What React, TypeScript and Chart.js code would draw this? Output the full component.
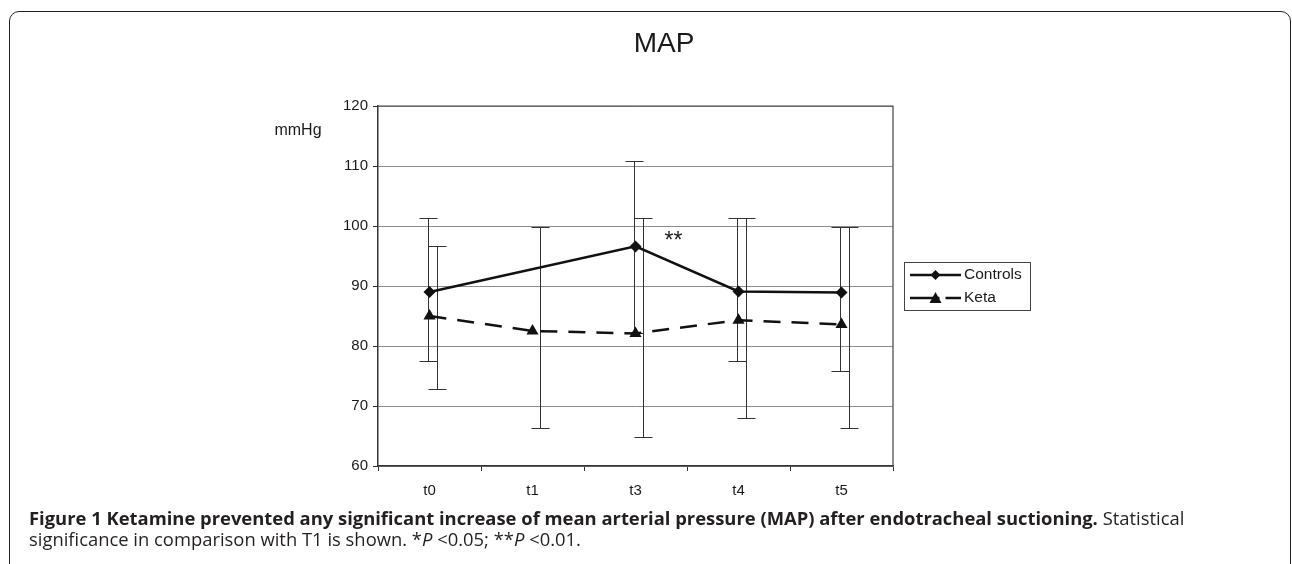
import { useEffect, useRef } from "react";
import { Chart, registerables, Plugin } from "chart.js";

Chart.register(...registerables);

const timePoints = ["t0", "t1", "t3", "t4", "t5"];

// mean values (mmHg); controls have no reading at t1
const controlsMean = [89.0, null, 96.6, 89.1, 88.9];
const ketaMean = [85.0, 82.5, 82.1, 84.3, 83.6];

// error bar ends
const controlsHigh = [101.3, null, 110.8, 101.3, 99.8];
const controlsLow = [77.5, null, 82.2, 77.5, 75.9];
const ketaHigh = [96.6, 99.8, 101.3, 101.3, 99.8];
const ketaLow = [72.8, 66.4, 64.8, 68.0, 66.4];

const yMin = 60;
const yMax = 120;
const yStep = 10;

// significance mark
const starIndex = 2;
const starValue = 98;

const FONT = "'Liberation Sans', Arial, sans-serif";
const INK = "#1a1a1a";

const errorBars: Plugin<"line"> = {
  id: "errorBars",
  beforeDatasetsDraw(chart) {
    const { ctx, chartArea } = chart;
    const x = chart.scales.x;
    const y = chart.scales.y;

    // plot frame (top + right)
    ctx.save();
    ctx.strokeStyle = "#444";
    ctx.lineWidth = 1.2;
    ctx.beginPath();
    ctx.moveTo(chartArea.left, chartArea.top);
    ctx.lineTo(chartArea.right, chartArea.top);
    ctx.lineTo(chartArea.right, chartArea.bottom);
    ctx.stroke();

    const series = [
      { high: controlsHigh, low: controlsLow, shift: -2 },
      { high: ketaHigh, low: ketaLow, shift: 7 },
    ];
    ctx.strokeStyle = "#333";
    ctx.lineWidth = 1;
    series.forEach((s) => {
      timePoints.forEach((_, i) => {
        const hi = s.high[i];
        const lo = s.low[i];
        if (hi == null || lo == null) return;
        const px = Math.round(x.getPixelForValue(i) + s.shift) + 0.5;
        const top = Math.round(y.getPixelForValue(hi)) + 0.5;
        const bottom = Math.round(y.getPixelForValue(lo)) + 0.5;
        ctx.beginPath();
        ctx.moveTo(px, top);
        ctx.lineTo(px, bottom);
        ctx.moveTo(px - 9, top);
        ctx.lineTo(px + 9, top);
        ctx.moveTo(px - 9, bottom);
        ctx.lineTo(px + 9, bottom);
        ctx.stroke();
      });
    });
    ctx.restore();
  },
  afterDraw(chart) {
    const { ctx, chartArea } = chart;
    const x = chart.scales.x;
    const y = chart.scales.y;
    ctx.save();
    ctx.fillStyle = INK;

    // title
    ctx.font = `28px ${FONT}`;
    ctx.textAlign = "center";
    ctx.textBaseline = "middle";
    ctx.fillText("MAP", 664, 44);

    // unit label
    ctx.font = `16px ${FONT}`;
    ctx.fillText("mmHg", 298, 131);

    // ** mark
    ctx.font = `23px ${FONT}`;
    ctx.fillText("**", x.getPixelForValue(starIndex) + 38, y.getPixelForValue(starValue) + 4);

    // legend
    const bx = chartArea.right + 11;
    const by = 262;
    ctx.strokeStyle = "#444";
    ctx.lineWidth = 1;
    ctx.strokeRect(bx + 0.5, by + 0.5, 126, 48);

    const x0 = bx + 6;
    const x1 = bx + 57;
    const mid = (x0 + x1) / 2;
    ctx.strokeStyle = "#111";
    ctx.fillStyle = "#111";
    ctx.lineWidth = 2.5;

    let ly = by + 13;
    ctx.beginPath();
    ctx.moveTo(x0, ly);
    ctx.lineTo(x1, ly);
    ctx.stroke();
    ctx.beginPath();
    ctx.moveTo(mid, ly - 5);
    ctx.lineTo(mid + 5, ly);
    ctx.lineTo(mid, ly + 5);
    ctx.lineTo(mid - 5, ly);
    ctx.closePath();
    ctx.fill();

    ly = by + 36;
    ctx.beginPath();
    ctx.moveTo(x0, ly);
    ctx.lineTo(mid + 4, ly);
    ctx.moveTo(mid + 10, ly);
    ctx.lineTo(x1, ly);
    ctx.stroke();
    ctx.beginPath();
    ctx.moveTo(mid, ly - 6);
    ctx.lineTo(mid + 6, ly + 5);
    ctx.lineTo(mid - 6, ly + 5);
    ctx.closePath();
    ctx.fill();

    ctx.fillStyle = INK;
    ctx.font = `15.5px ${FONT}`;
    ctx.textAlign = "left";
    ctx.fillText("Controls", x1 + 3, by + 13);
    ctx.fillText("Keta", x1 + 3, by + 36);
    ctx.restore();
  },
};

function MapChart() {
  const canvasRef = useRef<HTMLCanvasElement>(null);

  useEffect(() => {
    if (!canvasRef.current) return;
    const tickFont = { family: FONT, size: 15 };

    const chart = new Chart(canvasRef.current, {
      type: "line",
      data: {
        labels: timePoints,
        datasets: [
          {
            label: "Controls",
            data: controlsMean,
            borderColor: "#111",
            backgroundColor: "#111",
            borderWidth: 2.5,
            pointStyle: "rectRot",
            pointRadius: 6,
            pointBorderWidth: 0,
            tension: 0,
            spanGaps: true,
          },
          {
            label: "Keta",
            data: ketaMean,
            borderColor: "#111",
            backgroundColor: "#111",
            borderWidth: 2.5,
            borderDash: [17, 11],
            pointStyle: "triangle",
            pointRadius: 7,
            pointBorderWidth: 0,
            tension: 0,
          },
        ],
      },
      options: {
        animation: false,
        responsive: true,
        maintainAspectRatio: false,
        layout: { padding: { left: 318, right: 399, top: 106, bottom: 4 } },
        plugins: {
          legend: { display: false },
          tooltip: { enabled: false },
        },
        scales: {
          x: {
            type: "category",
            offset: true,
            afterFit(scale) {
              scale.height = 40;
            },
            grid: {
              offset: true,
              drawOnChartArea: false,
              drawTicks: true,
              tickLength: 5,
              tickColor: "#333",
            },
            border: { color: "#333", width: 1.5 },
            ticks: { font: tickFont, color: INK, padding: 11 },
          },
          y: {
            min: yMin,
            max: yMax,
            afterFit(scale) {
              scale.width = 60;
            },
            grid: {
              color: "#8c8c8c",
              lineWidth: 1,
              tickLength: 5,
              tickColor: "#333",
            },
            border: { color: "#333", width: 1.5 },
            ticks: { stepSize: yStep, font: tickFont, color: INK, padding: 5 },
          },
        },
      },
      plugins: [errorBars],
    });

    return () => chart.destroy();
  }, []);

  return (
    <div style={{ position: "absolute", left: 0, top: 0, width: 1292, height: 510 }}>
      <canvas ref={canvasRef} />
    </div>
  );
}

export default function App() {
  return (
    <div
      style={{
        position: "absolute",
        left: 0,
        top: 0,
        width: 1292,
        height: 564,
        overflow: "hidden",
        background: "#fff",
      }}
    >
      <div
        style={{
          position: "absolute",
          left: 9,
          top: 11,
          width: 1282,
          height: 620,
          boxSizing: "border-box",
          border: "1.5px solid #222",
          borderRadius: 10,
        }}
      />
      <MapChart />
      <div
        style={{
          position: "absolute",
          left: 29,
          top: 507,
          fontFamily: "'Open Sans', sans-serif",
          fontSize: 18.4,
          lineHeight: "21px",
          color: "#231f20",
          whiteSpace: "nowrap",
        }}
      >
        <div>
          <b>
            Figure 1 Ketamine prevented any significant increase of mean arterial pressure (MAP) after endotracheal
            suctioning.
          </b>{" "}
          Statistical
        </div>
        <div>
          significance in comparison with T1 is shown. *<i>P</i> &lt;0.05; **<i>P</i> &lt;0.01.
        </div>
      </div>
    </div>
  );
}
